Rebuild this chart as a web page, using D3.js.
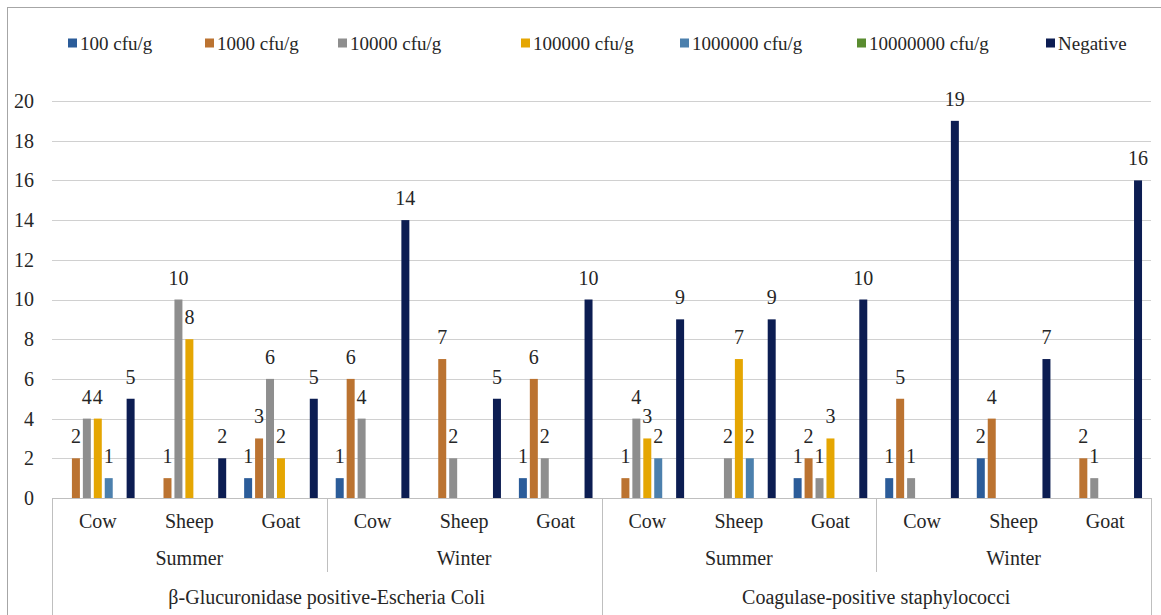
<!DOCTYPE html>
<html>
<head>
<meta charset="utf-8">
<script src="https://cdn.jsdelivr.net/npm/d3@7/dist/d3.min.js"></script>
<style>
  html, body { margin: 0; padding: 0; background: #ffffff; }
  svg { display: block; }
  svg text { font-family: "Times New Roman", Tinos, "Liberation Serif", "Nimbus Roman", "Nimbus Roman No9 L", FreeSerif, "Noto Serif", "DejaVu Serif", "Noto Serif CJK SC", serif !important; fill: #262626; }
</style>
</head>
<body>
<svg id="chart" width="1161" height="615"></svg>
<script>
// Category levels (innermost first)
const animals = ["Cow", "Sheep", "Goat"];
const seasons = ["Summer", "Winter"];
const pathogens = ["β-Glucuronidase positive-Escheria Coli", "Coagulase-positive staphylococci"];

// Series (contamination level) names and colours
const seriesNames = ["100 cfu/g", "1000 cfu/g", "10000 cfu/g", "100000 cfu/g", "1000000 cfu/g", "10000000 cfu/g", "Negative"];
const seriesColors = ["#2b5c99", "#bb7331", "#8e8e8e", "#e5a602", "#4c80ad", "#5a8c30", "#0c1d52"];

// Counts per group: order = pathogen > season > animal
const v100      = [0, 0, 1, 1, 0, 1, 0, 0, 1, 1, 2, 0];
const v1000     = [2, 1, 3, 6, 7, 6, 1, 0, 2, 5, 4, 2];
const v10000    = [4, 10, 6, 4, 2, 2, 4, 2, 1, 1, 0, 1];
const v100000   = [4, 8, 2, 0, 0, 0, 3, 7, 3, 0, 0, 0];
const v1000000  = [1, 0, 0, 0, 0, 0, 2, 2, 0, 0, 0, 0];
const v10000000 = [0, 0, 0, 0, 0, 0, 0, 0, 0, 0, 0, 0];
const vNegative = [5, 2, 5, 14, 5, 10, 9, 9, 10, 19, 7, 16];

const yTicks = [0, 2, 4, 6, 8, 10, 12, 14, 16, 18, 20];

const seriesValues = [v100, v1000, v10000, v100000, v1000000, v10000000, vNegative];

// Build the flat list of groups
const groups = [];
pathogens.forEach((p, pi) => seasons.forEach((s, si) => animals.forEach((a, ai) => {
  groups.push({ id: groups.length, pathogen: p, season: s, animal: a });
})));

const svg = d3.select("#chart");
const plot = { left: 52, right: 1151, top: 101, bottom: 498 };

// Outer frame of the chart
svg.append("rect")
  .attr("x", 7.5).attr("y", 7.5)
  .attr("width", 1170).attr("height", 630)
  .attr("fill", "none").attr("stroke", "#a6a6a6").attr("stroke-width", 1);

const x0 = d3.scaleBand().domain(groups.map(g => g.id)).range([plot.left, plot.right]).padding(0);
const x1 = d3.scaleBand().domain(d3.range(seriesNames.length))
  .range([0, x0.bandwidth()]).paddingInner(0.27).paddingOuter(0.82);
const y = d3.scaleLinear().domain([0, 20]).range([plot.bottom, plot.top]);

// Gridlines
svg.append("g")
  .selectAll("line").data(yTicks.filter(t => t > 0)).join("line")
  .attr("x1", plot.left).attr("x2", plot.right)
  .attr("y1", d => Math.round(y(d)) + 0.5).attr("y2", d => Math.round(y(d)) + 0.5)
  .attr("stroke", "#d0d0d0").attr("stroke-width", 1);

// Y axis labels
const yAxis = d3.axisLeft(y).tickValues(yTicks).tickSize(0).tickPadding(18);
const yg = svg.append("g").attr("transform", `translate(${plot.left},0)`).call(yAxis)
  .attr("font-size", 20);
yg.select(".domain").remove();
yg.selectAll("text").attr("fill", "#262626");

// Bars
const barData = [];
groups.forEach(g => seriesValues.forEach((vals, si) => {
  barData.push({ g: g.id, s: si, v: vals[g.id] });
}));

svg.append("g").selectAll("rect").data(barData.filter(d => d.v > 0)).join("rect")
  .attr("x", d => x0(d.g) + x1(d.s))
  .attr("width", x1.bandwidth())
  .attr("y", d => y(d.v))
  .attr("height", d => y(0) - y(d.v))
  .attr("fill", d => seriesColors[d.s]);

// Value labels
svg.append("g").selectAll("text").data(barData.filter(d => d.v > 0)).join("text")
  .attr("x", d => x0(d.g) + x1(d.s) + x1.bandwidth() / 2)
  .attr("y", d => y(d.v) - 15)
  .attr("text-anchor", "middle")
  .attr("font-size", 20)
  .text(d => d.v);

// Category axis line
svg.append("line")
  .attr("x1", plot.left).attr("x2", plot.right)
  .attr("y1", plot.bottom + 0.5).attr("y2", plot.bottom + 0.5)
  .attr("stroke", "#bfbfbf");

// Multi-level category labels
const axisG = svg.append("g");
axisG.selectAll("text.animal").data(groups).join("text")
  .attr("class", "animal")
  .attr("x", d => x0(d.id) + x0.bandwidth() / 2)
  .attr("y", 528)
  .attr("text-anchor", "middle").attr("font-size", 20)
  .text(d => d.animal);

const seasonGroups = d3.range(pathogens.length * seasons.length);
const seasonWidth = x0.bandwidth() * animals.length;
axisG.selectAll("text.season").data(seasonGroups).join("text")
  .attr("class", "season")
  .attr("x", d => plot.left + seasonWidth * (d + 0.5))
  .attr("y", 565)
  .attr("text-anchor", "middle").attr("font-size", 20)
  .text(d => seasons[d % seasons.length]);

const pathWidth = seasonWidth * seasons.length;
axisG.selectAll("text.pathogen").data(pathogens).join("text")
  .attr("class", "pathogen")
  .attr("x", (d, i) => plot.left + pathWidth * (i + 0.5))
  .attr("y", 604)
  .attr("text-anchor", "middle").attr("font-size", 20)
  .text(d => d);

// Separator lines between season and pathogen blocks
const seps = [];
for (let i = 0; i <= seasonGroups.length; i++) {
  const full = (i % seasons.length === 0);
  seps.push({ x: plot.left + seasonWidth * i, y2: full ? 615 : 572 });
}
axisG.selectAll("line").data(seps).join("line")
  .attr("x1", d => Math.round(d.x) + 0.5).attr("x2", d => Math.round(d.x) + 0.5)
  .attr("y1", plot.bottom).attr("y2", d => d.y2)
  .attr("stroke", "#bfbfbf");

// Legend
const legendX = [68, 205, 338, 521, 680, 857, 1046];
const lg = svg.append("g").selectAll("g").data(seriesNames).join("g")
  .attr("transform", (d, i) => `translate(${legendX[i]},43)`);
lg.append("rect").attr("x", 0).attr("y", -4.5).attr("width", 9).attr("height", 9)
  .attr("fill", (d, i) => seriesColors[i]);
lg.append("text").attr("x", 12).attr("y", 6.5).attr("font-size", 19).text(d => d);
</script>
</body>
</html>
